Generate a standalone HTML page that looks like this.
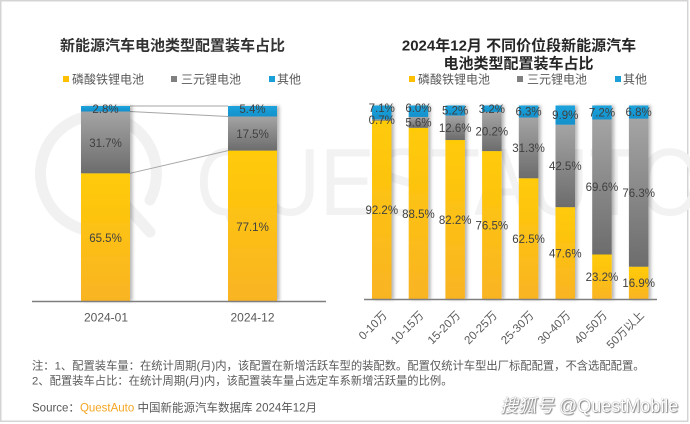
<!DOCTYPE html>
<html><head><meta charset="utf-8"><style>
html,body{margin:0;padding:0;background:#fff;}
svg{display:block;}
text{font-family:"Liberation Sans","Noto Sans CJK SC",sans-serif;}
</style></head><body>
<svg width="690" height="424" viewBox="0 0 690 424" xmlns="http://www.w3.org/2000/svg">
<defs>
<linearGradient id="gy" x1="0" y1="0" x2="0" y2="1"><stop offset="0" stop-color="#FFCB06"/><stop offset="1" stop-color="#F9B424"/></linearGradient>
<linearGradient id="gg" x1="0" y1="0" x2="0" y2="1"><stop offset="0" stop-color="#A4A4A4"/><stop offset="1" stop-color="#6C6C6C"/></linearGradient>
<linearGradient id="gb" x1="0" y1="0" x2="0" y2="1"><stop offset="0" stop-color="#1CA3DC"/><stop offset="1" stop-color="#1590CB"/></linearGradient>
<filter id="sh" x="-20%" y="-5%" width="150%" height="110%"><feDropShadow dx="2.5" dy="0" stdDeviation="1.5" flood-color="#000" flood-opacity="0.28"/></filter>
</defs>
<rect x="0.75" y="0.75" width="687" height="420.5" fill="#fff" stroke="#d4d4d4" stroke-width="1.5"/>

<!-- watermark -->
<g fill="none" stroke="#f1f1f1" stroke-width="11" stroke-linecap="round">
<path d="M 118 228 A 58 58 0 1 1 150 200"/>
<path d="M 112 190 L 150 232"/>
</g>
<text x="0" y="0" transform="translate(196,215) scale(0.86,1)" font-size="96" fill="#f2f2f2">QUESTAUTO</text>

<!-- LEFT CHART -->
<text x="172.5" y="50.7" text-anchor="middle" font-size="15" font-weight="bold" fill="#333">新能源汽车电池类型配置装车占比</text>
<rect x="63" y="76" width="6" height="6" fill="#FFC000"/>
<text x="72" y="83.6" font-size="12" fill="#595959">磷酸铁锂电池</text>
<rect x="171" y="76" width="6" height="6" fill="#808080"/>
<text x="181" y="83.6" font-size="12" fill="#595959">三元锂电池</text>
<rect x="269" y="76" width="6" height="6" fill="#1A9FD9"/>
<text x="277" y="83.6" font-size="12" fill="#595959">其他</text>

<g stroke="#a6a6a6" stroke-width="1">
<line x1="130" y1="106" x2="228" y2="106"/>
<line x1="130" y1="111.5" x2="228" y2="116.5"/>
<line x1="130" y1="173.3" x2="228" y2="150.6"/>
</g>
<g filter="url(#sh)">
<rect x="81" y="173.3" width="49" height="127.7" fill="url(#gy)"/>
<rect x="81" y="111.5" width="49" height="61.8" fill="url(#gg)"/>
<rect x="81" y="106" width="49" height="5.5" fill="url(#gb)"/>
<rect x="228" y="150.6" width="49" height="150.4" fill="url(#gy)"/>
<rect x="228" y="116.5" width="49" height="34.1" fill="url(#gg)"/>
<rect x="228" y="106" width="49" height="10.5" fill="url(#gb)"/>
</g>
<line x1="32" y1="301.5" x2="326" y2="301.5" stroke="#7f7f7f" stroke-width="1.5"/>
<g font-size="11.5" fill="#404040" text-anchor="middle">
<text x="105.5" y="113.1">2.8%</text>
<text x="105.5" y="146.8">31.7%</text>
<text x="105.5" y="242">65.5%</text>
<text x="252.5" y="113.1">5.4%</text>
<text x="252.5" y="138">17.5%</text>
<text x="252.5" y="231">77.1%</text>
</g>
<g font-size="12" fill="#595959" text-anchor="middle">
<text x="106" y="321.3">2024-01</text>
<text x="252.5" y="321.3">2024-12</text>
</g>

<!-- RIGHT CHART -->
<text x="519" y="50.7" text-anchor="middle" font-size="15" fill="#262626" font-weight="bold">2024年12月 不同价位段新能源汽车</text>
<text x="518.5" y="68.7" text-anchor="middle" font-size="15" fill="#262626" font-weight="bold">电池类型配置装车占比</text>
<rect x="409" y="76" width="6" height="6" fill="#FFC000"/>
<text x="418" y="83.6" font-size="12" fill="#595959">磷酸铁锂电池</text>
<rect x="517" y="76" width="6" height="6" fill="#808080"/>
<text x="527" y="83.6" font-size="12" fill="#595959">三元锂电池</text>
<rect x="615" y="76" width="6" height="6" fill="#1A9FD9"/>
<text x="623" y="83.6" font-size="12" fill="#595959">其他</text>

<g filter="url(#sh)">
<rect x="372" y="120.63" width="19.5" height="178.87" fill="url(#gy)"/>
<rect x="372" y="119.27" width="19.5" height="1.36" fill="url(#gg)"/>
<rect x="372" y="105.5" width="19.5" height="13.77" fill="url(#gb)"/>

<rect x="408.7" y="127.81" width="19.5" height="171.69" fill="url(#gy)"/>
<rect x="408.7" y="116.95" width="19.5" height="10.86" fill="url(#gg)"/>
<rect x="408.7" y="105.5" width="19.5" height="11.45" fill="url(#gb)"/>

<rect x="445.4" y="140.03" width="19.5" height="159.47" fill="url(#gy)"/>
<rect x="445.4" y="115.59" width="19.5" height="24.44" fill="url(#gg)"/>
<rect x="445.4" y="105.5" width="19.5" height="10.09" fill="url(#gb)"/>

<rect x="482.1" y="151.09" width="19.5" height="148.41" fill="url(#gy)"/>
<rect x="482.1" y="111.9" width="19.5" height="39.19" fill="url(#gg)"/>
<rect x="482.1" y="105.5" width="19.5" height="6.4" fill="url(#gb)"/>

<rect x="518.8" y="178.25" width="19.5" height="121.25" fill="url(#gy)"/>
<rect x="518.8" y="117.53" width="19.5" height="60.72" fill="url(#gg)"/>
<rect x="518.8" y="105.5" width="19.5" height="12.03" fill="url(#gb)"/>

<rect x="555.5" y="207.16" width="19.5" height="92.34" fill="url(#gy)"/>
<rect x="555.5" y="124.71" width="19.5" height="82.45" fill="url(#gg)"/>
<rect x="555.5" y="105.5" width="19.5" height="19.21" fill="url(#gb)"/>

<rect x="592.2" y="254.49" width="19.5" height="45.01" fill="url(#gy)"/>
<rect x="592.2" y="119.47" width="19.5" height="135.02" fill="url(#gg)"/>
<rect x="592.2" y="105.5" width="19.5" height="13.97" fill="url(#gb)"/>

<rect x="628.9" y="266.71" width="19.5" height="32.79" fill="url(#gy)"/>
<rect x="628.9" y="118.69" width="19.5" height="148.02" fill="url(#gg)"/>
<rect x="628.9" y="105.5" width="19.5" height="13.19" fill="url(#gb)"/>
</g>
<line x1="364" y1="299.5" x2="657" y2="299.5" stroke="#7f7f7f" stroke-width="1.5"/>

<g font-size="11.5" fill="#404040" text-anchor="middle">
<text x="381.75" y="112.1">7.1%</text>
<text x="381.75" y="124">0.7%</text>
<text x="381.75" y="214.2">92.2%</text>

<text x="418.45" y="112.1">6.0%</text>
<text x="418.45" y="126.5">5.6%</text>
<text x="418.45" y="217.8">88.5%</text>

<text x="455.15" y="114.6">5.2%</text>
<text x="455.15" y="131.9">12.6%</text>
<text x="455.15" y="223.9">82.2%</text>

<text x="491.85" y="112.8">3.2%</text>
<text x="491.85" y="135.6">20.2%</text>
<text x="491.85" y="229.4">76.5%</text>

<text x="528.55" y="115.6">6.3%</text>
<text x="528.55" y="152">31.3%</text>
<text x="528.55" y="243">62.5%</text>

<text x="565.25" y="119.2">9.9%</text>
<text x="565.25" y="170">42.5%</text>
<text x="565.25" y="257.4">47.6%</text>

<text x="601.95" y="116.6">7.2%</text>
<text x="601.95" y="191.1">69.6%</text>
<text x="601.95" y="281.1">23.2%</text>

<text x="638.65" y="116.2">6.8%</text>
<text x="638.65" y="196.8">76.3%</text>
<text x="638.65" y="287.2">16.9%</text>
</g>

<g font-size="11.5" fill="#595959" text-anchor="end">
<text transform="translate(387.75,316) rotate(-45)">0-10万</text>
<text transform="translate(424.45,316) rotate(-45)">10-15万</text>
<text transform="translate(461.15,316) rotate(-45)">15-20万</text>
<text transform="translate(497.85,316) rotate(-45)">20-25万</text>
<text transform="translate(534.55,316) rotate(-45)">25-30万</text>
<text transform="translate(571.25,316) rotate(-45)">30-40万</text>
<text transform="translate(607.95,316) rotate(-45)">40-50万</text>
<text transform="translate(644.65,316) rotate(-45)">50万以上</text>
</g>

<!-- notes -->
<g font-size="11.3" fill="#595959">
<text x="32" y="369.5">注：1、配置装车量：在统计周期(月)内，该配置在新增活跃车型的装配数。配置仅统计车型出厂标配配置，不含选配配置。</text>
<text x="32" y="384.5">2、配置装车占比：在统计周期(月)内，该配置装车量占选定车系新增活跃量的比例。</text>
</g>
<text x="32" y="411.5" font-size="11.5" fill="#595959">Source：<tspan fill="#F5A623">QuestAuto</tspan> 中国新能源汽车数据库 2024年12月</text>

<text x="500" y="412" font-size="18" fill="#ffffff" style="text-shadow:0 0 1px #666,1px 1px 1px #888"><tspan font-style="italic">搜狐号</tspan> @QuestMobile</text>
</svg>
</body></html>
